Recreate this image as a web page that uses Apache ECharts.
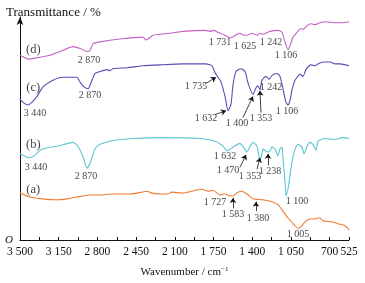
<!DOCTYPE html>
<html>
<head>
<meta charset="utf-8">
<script src="https://cdn.jsdelivr.net/npm/echarts@6/dist/echarts.min.js"></script>
<style>
  html, body { margin: 0; padding: 0; background: #fff; }
  #chart { width: 365px; height: 283px; }
</style>
</head>
<body>
<div id="chart"></div>
<script>
// spectra, [wavenumber, transmittance (offset, arbitrary units)]
var curveA = [[3500,49],[3410,45],[3292,43],[3165,42],[3075,43],[2985,45],[2867,47],[2777,47],[2659,48],[2532,48],[2442,49],[2352,51],[2306,49],[2207,48],[2162,48],[2126,50],[2035,49],[1854,53],[1800,51],[1755,52],[1691,47],[1646,48],[1601,46],[1574,46],[1528,50],[1493,51],[1447,48],[1393,43],[1303,42],[1221,40],[1167,37],[1122,30],[1077,23],[1013,15],[986,12],[950,15],[923,19],[878,22],[832,22],[814,23],[787,23],[760,20],[679,19],[624,17],[561,15],[534,12],[525,10]];
var curveB = [[3500,90],[3464,88],[3428,86],[3382,87],[3301,95],[3165,98],[3021,102],[2976,98],[2930,87],[2894,75],[2867,80],[2822,95],[2777,100],[2659,104],[2478,106],[2234,107],[1872,106],[1728,103],[1664,98],[1628,93],[1574,97],[1511,101],[1484,98],[1447,92],[1420,98],[1393,102],[1357,98],[1330,83],[1312,90],[1303,95],[1276,93],[1257,92],[1239,93],[1221,97],[1194,95],[1167,88],[1149,95],[1131,97],[1122,85],[1104,62],[1095,46],[1077,53],[1040,82],[1013,95],[986,100],[950,97],[932,90],[905,98],[878,102],[851,100],[823,94],[805,103],[742,106],[651,105],[579,107],[525,106]];
var curveC = [[3500,147],[3464,143],[3428,141],[3391,144],[3346,150],[3292,160],[3202,167],[3111,170],[2985,170],[2957,165],[2921,160],[2885,158],[2849,167],[2822,174],[2777,176],[2713,178],[2686,177],[2659,179],[2532,180],[2388,182],[2234,183],[2026,184],[1818,184],[1764,182],[1737,175],[1710,170],[1682,165],[1646,150],[1619,135],[1592,142],[1574,162],[1547,176],[1502,179],[1465,176],[1438,164],[1393,152],[1366,159],[1348,161],[1330,157],[1312,167],[1276,171],[1248,168],[1221,172],[1176,174],[1149,171],[1122,158],[1095,144],[1077,141],[1058,146],[1040,157],[1013,167],[968,173],[941,171],[914,178],[869,183],[832,182],[805,184],[760,186],[697,186],[651,184],[606,184],[525,182]];
var curveD = [[3500,193],[3464,191],[3428,189],[3364,190],[3229,193],[3138,197],[3021,202],[2957,200],[2894,197],[2867,198],[2840,205],[2777,207],[2596,210],[2388,212],[2361,209],[2343,210],[2297,214],[2144,216],[2026,218],[1827,219],[1782,218],[1746,219],[1710,217],[1646,214],[1601,211],[1565,213],[1537,215],[1511,216],[1475,214],[1447,214],[1402,216],[1357,214],[1330,216],[1303,215],[1239,218],[1167,219],[1131,217],[1104,207],[1077,199],[1058,203],[1031,212],[995,217],[959,221],[941,220],[905,224],[869,226],[832,225],[787,227],[742,228],[651,227],[588,227],[525,228]];

// curve names and peak labels: [text, wavenumber, value]
var curveLabels = [['(a)',3380,53],['(b)',3380,100],['(c)',3380,159],['(d)',3380,199]];
var peakLabels = [
  ['2 870',2876,188],['1 731',1691,206],['1 625',1465,202],['1 242',1230,207],['1 106',1095,193],
  ['3 440',3364,132],['2 870',2867,151],['1 735',1908,161],['1 632',1818,127],['1 400',1538,122],['1 353',1321,127],['1 242',1230,159],['1 106',1086,134],
  ['3 440',3355,76],['2 870',2903,67],['1 632',1646,87],['1 470',1619,73],['1 353',1420,67],['1 238',1239,72],['1 100',995,40],
  ['1 727',1737,39],['1 583',1574,27],['1 380',1348,23],['1 005',986,6]
];
// arrows: [fromW, fromV, toW, toV]
var arrows = [
  [1827,163,1728,170],[1737,131,1637,135],[1484,128,1393,150],[1321,133,1330,156],
  [1511,76,1456,89],[1357,74,1330,86],[1257,78,1257,90],
  [1574,33,1574,44],[1366,30,1366,40]
];

var serif = '"Liberation Serif", "DejaVu Serif", serif';
var ink = '#111';

function fmt(v) {
  return String(v).replace(/\B(?=(\d{3})+(?!\d))/g, ' ');
}

function spectrum(data, color) {
  return {
    type: 'line',
    data: data,
    showSymbol: false,
    smooth: 0.2,
    lineStyle: { color: color, width: 1.1 },
    z: 2
  };
}

var myChart = echarts.init(document.getElementById('chart'));
var option = {
  animation: false,
  title: {
    text: 'Transmittance / %',
    left: 1,
    top: 1,
    textStyle: { fontFamily: serif, fontSize: 13, fontWeight: 'normal', color: ink }
  },
  grid: { left: 20, right: 16, top: 17, bottom: 33 },
  xAxis: {
    type: 'value',
    inverse: true,
    min: 525,
    max: 3500,
    interval: 175,
    name: 'Wavenumber / cm{sup|−1}',
    nameLocation: 'middle',
    nameGap: 26,
    nameTextStyle: {
      fontFamily: serif, fontSize: 11, color: ink,
      rich: { sup: { fontFamily: serif, fontSize: 7, verticalAlign: 'top', padding: [0, 0, 6, 0], color: ink } }
    },
    axisLine: { lineStyle: { color: ink, width: 1 } },
    axisTick: { inside: true, length: 3, lineStyle: { color: ink } },
    splitLine: { show: false },
    axisLabel: {
      fontFamily: serif, fontSize: 11.5, color: ink, margin: 6,
      formatter: function (v) {
        return (v === 525 || (v - 700) % 350 === 0) ? fmt(v) : '';
      }
    }
  },
  yAxis: {
    type: 'value',
    min: 0,
    max: 233,
    axisLine: { show: true, symbol: ['none', 'arrow'], symbolSize: [5, 8], lineStyle: { color: ink, width: 1 } },
    axisTick: { show: false },
    splitLine: { show: false },
    axisLabel: {
      fontFamily: serif, fontSize: 11, fontStyle: 'italic', color: ink, margin: 7,
      formatter: function (v) { return v === 0 ? 'O' : ''; }
    }
  },
  series: [
    spectrum(curveA, '#f07a30'),
    spectrum(curveB, '#5cc6d2'),
    spectrum(curveC, '#5a4cb4'),
    spectrum(curveD, '#c462c6'),
    {
      type: 'scatter',
      symbolSize: 1,
      itemStyle: { color: 'rgba(0,0,0,0)' },
      data: curveLabels.map(function (d) { return { name: d[0], value: [d[1], d[2]] }; }),
      label: { show: true, position: 'inside', formatter: '{b}', fontFamily: serif, fontSize: 12.5, color: ink },
      z: 3
    },
    {
      type: 'scatter',
      symbolSize: 1,
      itemStyle: { color: 'rgba(0,0,0,0)' },
      data: peakLabels.map(function (d) { return { name: d[0], value: [d[1], d[2]] }; }),
      label: { show: true, position: 'inside', formatter: '{b}', fontFamily: serif, fontSize: 10, color: ink },
      markLine: {
        silent: true,
        symbol: ['none', 'arrow'],
        symbolSize: 5,
        label: { show: false },
        lineStyle: { color: ink, width: 0.8, type: 'solid' },
        data: arrows.map(function (a) {
          return [{ coord: [a[0], a[1]] }, { coord: [a[2], a[3]] }];
        })
      },
      z: 3
    }
  ]
};
myChart.setOption(option);
</script>
</body>
</html>
